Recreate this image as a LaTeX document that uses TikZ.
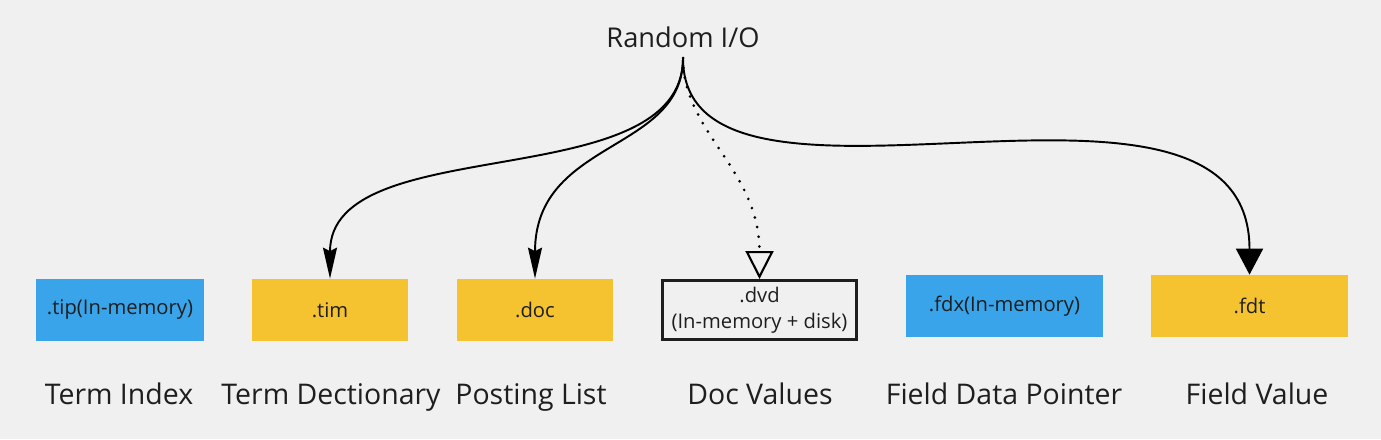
\documentclass[tikz,border=0pt]{standalone}
\usepackage{fontspec}
\setmainfont{Open Sans}
\usetikzlibrary{positioning,arrows.meta}
\definecolor{paper}{HTML}{F0F0F0}
\definecolor{ink}{HTML}{1E1E1E}
\definecolor{mem}{HTML}{39A4EA}
\definecolor{file}{HTML}{F4C32F}

\begin{document}
\begin{tikzpicture}[x=0.02cm,y=-0.02cm,
  ftxt/.style={font=\fontsize{11.5}{15}\selectfont,text=ink,inner sep=0pt,align=center},
  blue/.style={ftxt,fill=mem,minimum height=1.24cm},
  gold/.style={ftxt,fill=file,minimum height=1.24cm},
  disk/.style={ftxt,draw=ink,line width=1.7pt,fill=paper,minimum width=3.88cm,minimum height=1.18cm},
  tag/.style={font=\fontsize{16.2}{20}\selectfont,text=ink,anchor=base},
  flow/.style={line width=1.1pt,black}]
  \path[fill=paper,use as bounding box] (0,0) rectangle (1381,439);
  % file boxes
  \node[blue,minimum width=3.36cm] (tip) at (120,310) {.tip(In-memory)};
  \node[gold,minimum width=3.12cm] (tim) at (330,310) {.tim};
  \node[gold,minimum width=3.12cm] (doc) at (535,310) {.doc};
  \node[disk] (dvd) at (759.5,310) {.dvd\\(In-memory + disk)};
  \node[blue,minimum width=3.94cm] (fdx) at (1004.5,306) {.fdx(In-memory)};
  \node[gold,minimum width=3.94cm] (fdt) at (1249.5,306) {.fdt};
  % captions
  \node[tag] (tipl) at (119,404) {Term Index};
  \node[tag] (timl) at (331,404) {Term Dectionary};
  \node[tag] (docl) at (531,404) {Posting List};
  \node[tag] (dvdl) at (760,404) {Doc Values};
  \node[tag] (fdxl) at (1004,404) {Field Data Pointer};
  \node[tag] (fdtl) at (1257,404) {Field Value};
  % random access
  \node[tag,font=\fontsize{15.5}{19}\selectfont] (rio) at (683,48) {Random I/O};
  \coordinate (src) at (683,58);
  \draw[flow,-{Stealth[length=0.62cm,width=0.28cm,inset=0.07cm]}]
    (src) .. controls +(0,140) and +(0,-150) .. (tim.north);
  \draw[flow,-{Stealth[length=0.62cm,width=0.28cm,inset=0.07cm]}]
    (src) .. controls +(0,95) and +(0,-140) .. (doc.north);
  \draw[flow,line width=1.7pt,line cap=round,dash pattern=on 0pt off 5.6pt,
    -{Triangle[open,length=0.56cm,width=0.56cm,line width=1.2pt,fill=paper]}]
    (src) .. controls +(0,75) and +(0,-110) .. (dvd.north);
  \draw[flow,-{Triangle[length=0.52cm,width=0.54cm]}]
    (src) .. controls +(0,200) and +(0,-255) .. (fdt.north);
\end{tikzpicture}
\end{document}
